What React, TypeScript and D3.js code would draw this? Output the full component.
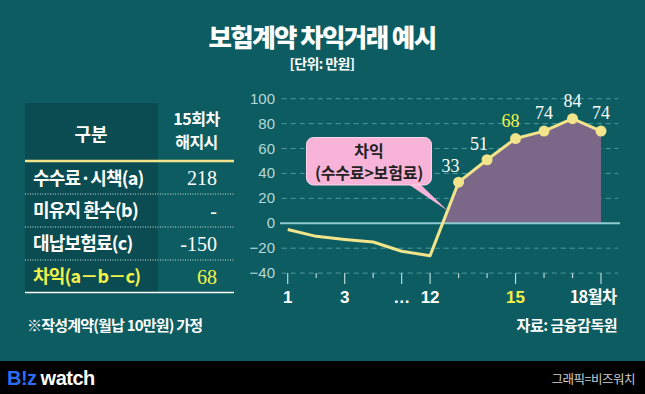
import React from "react";
import * as d3 from "d3";

// 차트 데이터
const months = ["1", "2", "3", "4", "…", "12", "13", "14", "15", "16", "17", "18"];
const tickLabels = ["1", "", "3", "", "…", "12", "", "", "15", "", "", "18월차"];
const profit = [-5, -10.5, -13, -15, -22.5, -26, 33, 51, 68, 74, 84, 74];
const yTicks = [100, 80, 60, 40, 20, 0, -20, -40];

// 표 데이터
const rowLabels = ["수수료·시책(a)", "미유지 환수(b)", "대납보험료(c)", "차익(a－b－c)"];
const rowValues = ["218", "-", "-150", "68"];

const W = 645;
const H = 394;
const BG = "#0c5c61";
const DARK = "#0a4c51";
const YELLOW_LINE = "#f1e48a";
const HILITE = "#f4f24a";
const KR = "'Noto Sans CJK KR', 'Noto Sans', sans-serif";
const SERIF = "'Liberation Serif', 'DejaVu Serif', serif";
const SANS = "'Liberation Sans', Arial, sans-serif";

export default function App() {
  const x = d3.scalePoint<string>().domain(months).range([287.7, 601]);
  const y = d3.scaleLinear().domain([-40, 100]).range([273.1, 98.7]);

  const line = d3
    .line<number>()
    .x((_, i) => x(months[i]) as number)
    .y(d => y(d));
  const area = d3
    .area<number>()
    .x((_, i) => x(months[i]) as number)
    .y0(y(0))
    .y1(d => y(d));

  const gx0 = 281.7;
  const gx1 = 618;

  // 표 행 위치
  const rowY = [178, 210.5, 243.5, 276.5];
  const sepY = [194, 227, 260];

  return (
    <svg
      width={W}
      height={H}
      style={{ position: "absolute", left: 0, top: 0, display: "block" }}
    >
      <defs>
        <clipPath id="pos">
          <rect x={0} y={0} width={W} height={y(0)} />
        </clipPath>
      </defs>
      <rect width={W} height={H} fill={BG} />

      {/* 제목 */}
      <text
        x={322}
        y={47}
        textAnchor="middle"
        fill="#fff"
        fontFamily={KR}
        fontWeight={900}
        fontSize={25.5}
        letterSpacing={-1.6}
      >
        보험계약 차익거래 예시
      </text>
      <text
        x={322}
        y={69}
        textAnchor="middle"
        fill="#fff"
        fontFamily={KR}
        fontWeight={700}
        fontSize={14}
        letterSpacing={-0.6}
      >
        [단위: 만원]
      </text>

      {/* 표 */}
      <rect x={25} y={103} width={133} height={189.5} fill={DARK} />
      <text x={91} y={141} textAnchor="middle" fill="#fff" fontFamily={KR} fontWeight={700} fontSize={18}>
        구분
      </text>
      <text x={196.5} y={125} textAnchor="middle" fill="#fff" fontFamily={KR} fontWeight={700} fontSize={16} letterSpacing={-0.5}>
        15회차
      </text>
      <text x={196.5} y={148} textAnchor="middle" fill="#fff" fontFamily={KR} fontWeight={700} fontSize={16} letterSpacing={-0.5}>
        해지시
      </text>
      <line x1={25} x2={234} y1={161} y2={161} stroke={YELLOW_LINE} strokeWidth={2.5} />
      {rowLabels.map((lab, i) => (
        <g key={lab}>
          <text
            x={33}
            y={rowY[i] + 6.5}
            fill={i === 3 ? HILITE : "#fff"}
            fontFamily={KR}
            fontWeight={700}
            fontSize={18}
            letterSpacing={-0.8}
          >
            {lab}
          </text>
          <text
            x={217}
            y={rowY[i] + 7}
            textAnchor="end"
            fill={i === 3 ? HILITE : "#fff"}
            fontFamily={SERIF}
            fontSize={20}
          >
            {rowValues[i]}
          </text>
        </g>
      ))}
      {sepY.map(s => (
        <line key={s} x1={25} x2={234} y1={s} y2={s} stroke="#cfe3e3" strokeWidth={1} strokeDasharray="1,1.5" />
      ))}
      <line x1={25} x2={234} y1={292.5} y2={292.5} stroke="#fff" strokeWidth={1.5} />

      {/* 그리드 */}
      {yTicks.map(t =>
        t === 0 ? null : (
          <line
            key={t}
            x1={gx0}
            x2={gx1}
            y1={y(t)}
            y2={y(t)}
            stroke="#4f9a9c"
            strokeWidth={1}
            strokeDasharray="5,4"
          />
        )
      )}
      {yTicks.map(t => (
        <text
          key={"l" + t}
          x={275}
          y={y(t) + 5}
          textAnchor="end"
          fill="#b4dadb"
          fontFamily={SANS}
          fontSize={15}
        >
          {t < 0 ? "−" + Math.abs(t) : t}
        </text>
      ))}

      {/* x 축 눈금 */}
      {months.map((m, i) => (
        <line
          key={"t" + m}
          x1={x(m)}
          x2={x(m)}
          y1={y(-40)}
          y2={y(-40) + (tickLabels[i] ? 11 : 5)}
          stroke="#b4dadb"
          strokeWidth={1.2}
        />
      ))}
      {months.map((m, i) =>
        tickLabels[i] ? (
          <text
            key={"x" + m}
            x={(x(m) as number) + (i === 11 ? -8 : 0)}
            y={303}
            textAnchor="middle"
            fill={i === 8 ? HILITE : "#fff"}
            fontFamily={i === 11 ? KR : SANS}
            fontWeight={700}
            fontSize={i === 11 ? 16.5 : 17}
            letterSpacing={i === 11 ? -0.8 : 0}
          >
            {tickLabels[i]}
          </text>
        ) : null
      )}

      {/* 면적 + 선 */}
      <path d={area(profit) || ""} fill="#7b6888" clipPath="url(#pos)" />
      <line x1={280} x2={620} y1={y(0)} y2={y(0)} stroke="#8fcbd2" strokeWidth={2} />
      <path d={line(profit) || ""} fill="none" stroke={YELLOW_LINE} strokeWidth={3} strokeLinejoin="round" />
      {profit.map((v, i) =>
        v > 0 ? (
          <g key={"p" + i}>
            <circle cx={x(months[i])} cy={y(v)} r={5.5} fill={YELLOW_LINE} />
            <text
              x={(x(months[i]) as number) + (i < 8 ? -8 : i === 8 ? -5 : 0)}
              y={y(v) - (i < 8 ? 10 : 12)}
              textAnchor="middle"
              fill={i === 8 ? HILITE : "#fff"}
              fontFamily={SERIF}
              fontSize={18}
            >
              {v}
            </text>
          </g>
        ) : null
      )}

      {/* 말풍선 */}
      <path d="M 408 184 L 448 211 L 420 184 Z" fill="#f8b4d8" />
      <rect x={306.5} y={137.5} width={125} height={47.5} rx={7} fill="#f8b4d8" stroke="#fbd6ea" strokeWidth={1} />
      <text x={369} y={157} textAnchor="middle" fill="#222" fontFamily={KR} fontWeight={700} fontSize={16}>
        차익
      </text>
      <text x={369} y={179} textAnchor="middle" fill="#222" fontFamily={KR} fontWeight={700} fontSize={16} letterSpacing={-0.2}>
        (수수료&gt;보험료)
      </text>

      {/* 하단 주석 */}
      <text x={27} y={331} fill="#fff" fontFamily={KR} fontWeight={700} fontSize={15} letterSpacing={-0.8}>
        ※작성계약(월납 10만원) 가정
      </text>
      <text x={617} y={331} textAnchor="end" fill="#fff" fontFamily={KR} fontWeight={700} fontSize={15} letterSpacing={-0.5}>
        자료: 금융감독원
      </text>

      {/* 푸터 */}
      <rect x={0} y={361} width={W} height={H - 361} fill="#000" />
      <text x={7} y={385} fontFamily={SANS} fontWeight={900} fontSize={20} letterSpacing={-0.5}>
        <tspan fill="#2f6cf2">B!z</tspan>
        <tspan fill="#fff" dx={4}>watch</tspan>
      </text>
      <text x={635} y={384} textAnchor="end" fill="#cfcfcf" fontFamily={KR} fontSize={12.5} letterSpacing={-0.5}>
        그래픽=비즈워치
      </text>
    </svg>
  );
}
